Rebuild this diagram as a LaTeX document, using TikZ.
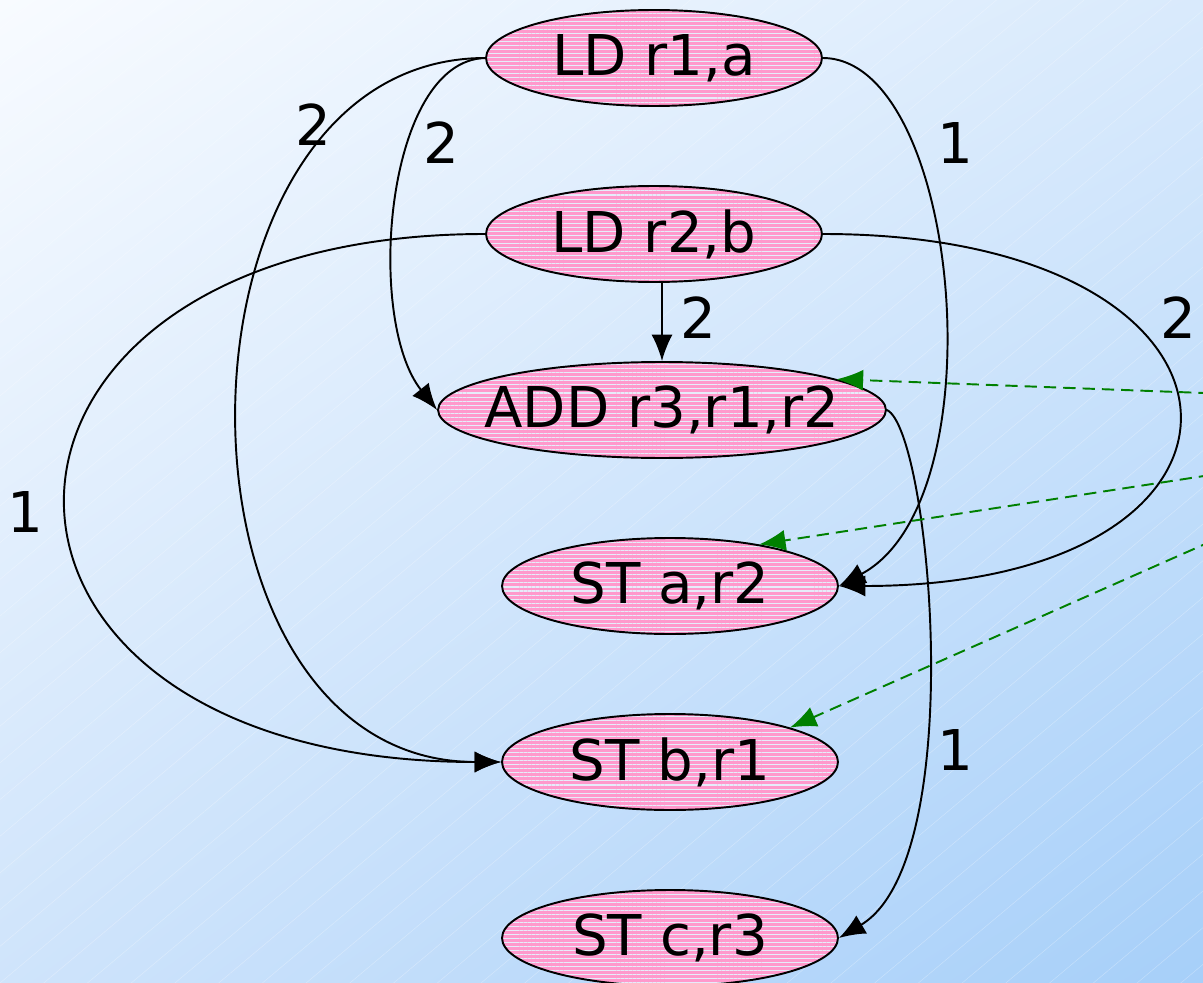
\documentclass[tikz,border=0pt]{standalone}
\usepackage{fontspec}
\setmainfont{DejaVu Sans}
\usetikzlibrary{arrows.meta,shapes.geometric,patterns.meta,shadings}
\definecolor{bgtl}{HTML}{F8FBFF}
\definecolor{bgtr}{HTML}{D9EAFC}
\definecolor{bgbl}{HTML}{CFE4FB}
\definecolor{bgbr}{HTML}{A6CFF9}
\definecolor{instrpink}{HTML}{FF99CC}
\definecolor{stripe}{HTML}{E6ECFA}
\definecolor{hintgreen}{HTML}{008000}
\tikzset{>={Latex[length=15pt,width=12pt]}}
\tikzset{
  instr/.style={ellipse,draw,line width=1.1pt,inner sep=0pt,minimum height=1.92cm,
    preaction={fill=instrpink},
    pattern={Lines[angle=0,distance=2.3pt,line width=0.6pt]},pattern color=stripe},
  wt/.style={font=\fontsize{32}{38}\selectfont,inner sep=0pt},
  dep/.style={->,line width=1.1pt},
  hint/.style={->,hintgreen,line width=1.1pt,dash pattern=on 7pt off 4pt}
}

\begin{document}
\begin{tikzpicture}[x=0.02cm,y=-0.02cm]
    \useasboundingbox (0,0) rectangle (1203,983);
    \clip (0,0) rectangle (1203,983);
    \shade[upper left=bgtl,upper right=bgtr,lower left=bgbl,lower right=bgbr]
      (0,0) rectangle (1203,983);
    \fill[pattern={Lines[angle=40,distance=16pt,line width=0.3pt]},pattern color=white,opacity=0.3]
      (0,0) rectangle (1203,983);

    \coordinate (h1) at (1230,394);
    \coordinate (h2) at (1230,472);
    \coordinate (h3) at (1230,533);

    \node[instr,minimum width=6.72cm,label={[wt]center:LD r1,a}] (ld1) at (654,58) {};
    \node[instr,minimum width=6.72cm,label={[wt]center:LD r2,b}] (ld2) at (654,234) {};
    \node[instr,minimum width=8.96cm,label={[wt]center:ADD r3,r1,r2}] (add) at (662,410) {};
    \node[instr,minimum width=6.72cm,label={[wt]center:ST a,r2}] (sta) at (670,586) {};
    \node[instr,minimum width=6.72cm,label={[wt]center:ST b,r1}] (stb) at (670,762) {};
    \node[instr,minimum width=6.72cm,label={[wt]center:ST c,r3}] (stc) at (670,938) {};

    % dependences
    \draw[dep](ld1.west) .. controls +(-330,0) and +(-350,0) .. (stb.west);
    \draw[dep](ld1.west) .. controls (385,60) and (365,320) .. (add.west);
    \draw[dep](ld1.east) .. controls (960,58) and (1000,500) .. (sta.east);
    \draw[dep](ld2.west) .. controls +(-556,0) and +(-580,0) .. (stb.west);
    \draw[dep](add.north |- ld2.south) -- (add.north);
    \draw[dep](ld2.east) .. controls +(464,0) and +(460,0) .. (sta.east);
    \draw[dep](add.east) .. controls (930,430) and (970,860) .. (stc.east);

    \node[wt] (w1) at (313,125) {2};
    \node[wt] (w2) at (441,143) {2};
    \node[wt] (w3) at (955,143) {1};
    \node[wt] (w4) at (25,512) {1};
    \node[wt] (w5) at (698,318) {2};
    \node[wt] (w6) at (1178,318) {2};
    \node[wt] (w7) at (955,750) {1};

    \draw[hint](h1) -- (add.10);
    \draw[hint](h2) -- (sta.25);
    \draw[hint](h3) -- (stb.16);
  \end{tikzpicture}
\end{document}
